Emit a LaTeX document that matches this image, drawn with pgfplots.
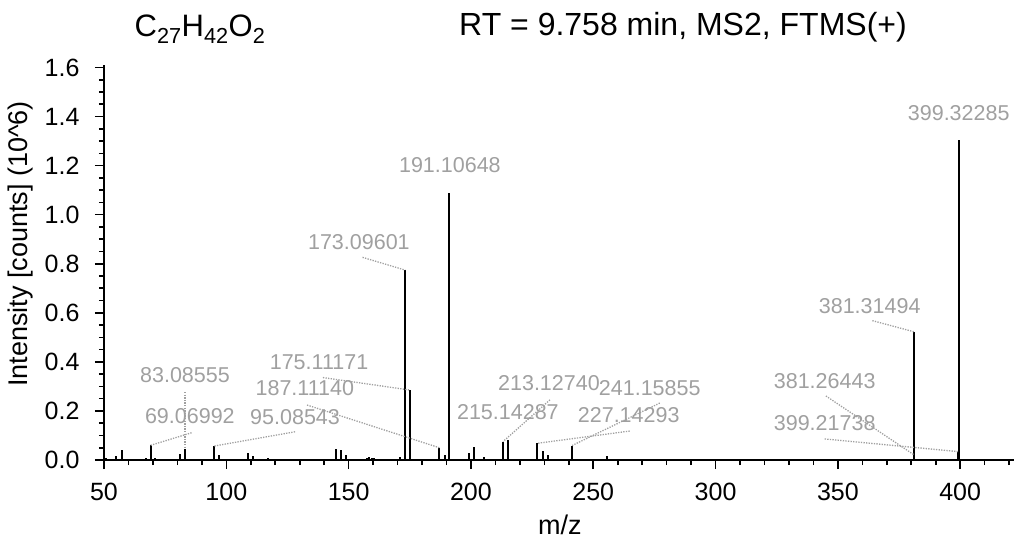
\documentclass[border=0pt]{standalone}
\usepackage{fontspec}
\setmainfont{Liberation Sans}
\usepackage{pgfplots}
\pgfplotsset{compat=1.18}
\definecolor{lbl}{RGB}{160,160,160}
\pgfplotstableread{
mz inten
51.0 0.008
54.9 0.016
57.2 0.04
59.5 0.005
62.2 0.005
67.0 0.01
69.06992 0.06
70.9 0.01
81.0 0.025
83.08555 0.045
93.6 0.005
95.08543 0.057
97.0 0.02
100.4 0.004
109.0 0.03
111.0 0.015
117.2 0.008
145.0 0.045
146.8 0.04
148.9 0.022
157.5 0.01
158.5 0.012
159.5 0.008
160.5 0.007
171.0 0.012
173.09601 0.774
175.11171 0.285
178.6 0.006
187.11140 0.05
189.4 0.02
191.10648 1.087
199.2 0.03
201.3 0.055
205.3 0.012
213.12740 0.075
215.14287 0.083
227.14293 0.068
229.5 0.035
231.6 0.02
241.15855 0.058
255.5 0.015
269.4 0.005
309.2 0.004
381.26443 0.02
381.31494 0.522
399.21738 0.034
399.32285 1.303
}\peaks
\begin{document}
\begin{tikzpicture}
\path[use as bounding box] (-104bp,-81bp) rectangle (912bp,460bp);
\begin{axis}[
  at={(0,0)}, anchor=south west,
  scale only axis, width=910bp, height=395bp,
  xmin=50, xmax=422, ymin=0, ymax=1.61,
  clip=false,
  axis x line=bottom, axis y line=left,
  axis line style={-, line width=1.8bp, black},
  /pgf/number format/assume math mode=true,
  xtick={50,100,150,200,250,300,350,400},
  minor xtick={60,70,80,90,110,120,130,140,160,170,180,190,210,220,230,240,260,270,280,290,310,320,330,340,360,370,380,390,410,420},
  ytick={0,0.2,0.4,0.6,0.8,1.0,1.2,1.4,1.6},
  minor ytick={0.05,0.1,0.15,0.25,0.3,0.35,0.45,0.5,0.55,0.65,0.7,0.75,0.85,0.9,0.95,1.05,1.1,1.15,1.25,1.3,1.35,1.45,1.5,1.55},
  tick align=outside,
  major tick length=9bp, minor tick length=5bp,
  tick style={line width=1.6bp, black},
  tick label style={font=\fontsize{25bp}{25bp}\selectfont},
  xticklabel style={yshift=-11bp},
  yticklabel style={xshift=-12bp, /pgf/number format/.cd, fixed, fixed zerofill, precision=1},
  xlabel={m/z},
  ylabel={Intensity [counts] (10\textasciicircum 6)},
  label style={font=\fontsize{27bp}{27bp}\selectfont},
  xlabel style={at={(axis description cs:0.501,-0.1646)}, anchor=center},
  ylabel style={at={(axis description cs:-0.0912,0.547)}, anchor=center},
]
\addplot[ycomb, black, line width=2bp, mark=none] table[x=mz, y=inten] {\peaks};
\tikzset{pl/.style={lbl, inner sep=0pt, anchor=center, font=\fontsize{21.5bp}{21.5bp}\selectfont},
         ld/.style={lbl, line width=1.3bp, dash pattern=on 1.3bp off 1.3bp}}
\node[pl] at (axis cs:399.4,1.415) {399.32285};
\node[pl] at (axis cs:191.4,1.203) {191.10648};
\node[pl] at (axis cs:154.2,0.887) {173.09601};
\draw[ld] (axis cs:155.7,0.826) -- (axis cs:173.096,0.774);
\node[pl] at (axis cs:137.9,0.397) {175.11171};
\draw[ld] (axis cs:139.5,0.336) -- (axis cs:175.112,0.285);
\node[pl] at (axis cs:132.1,0.294) {187.11140};
\draw[ld] (axis cs:133.0,0.224) -- (axis cs:187.111,0.05);
\node[pl] at (axis cs:83.1,0.347) {83.08555};
\draw[ld] (axis cs:83.09,0.277) -- (axis cs:83.09,0.045);
\node[pl] at (axis cs:85.1,0.177) {69.06992};
\draw[ld] (axis cs:85.8,0.111) -- (axis cs:69.07,0.06);
\node[pl] at (axis cs:128.1,0.175) {95.08543};
\draw[ld] (axis cs:128.1,0.115) -- (axis cs:95.085,0.057);
\node[pl] at (axis cs:231.9,0.313) {213.12740};
\draw[ld] (axis cs:232.3,0.245) -- (axis cs:213.127,0.075);
\node[pl] at (axis cs:215.1,0.197) {215.14287};
\node[pl] at (axis cs:264.5,0.183) {227.14293};
\draw[ld] (axis cs:264.9,0.118) -- (axis cs:227.143,0.068);
\node[pl] at (axis cs:273.1,0.294) {241.15855};
\draw[ld] (axis cs:277.2,0.232) -- (axis cs:241.159,0.058);
\node[pl] at (axis cs:363.0,0.628) {381.31494};
\draw[ld] (axis cs:364.1,0.568) -- (axis cs:381.315,0.522);
\node[pl] at (axis cs:344.6,0.323) {381.26443};
\draw[ld] (axis cs:345.1,0.261) -- (axis cs:381.264,0.02);
\node[pl] at (axis cs:344.6,0.151) {399.21738};
\draw[ld] (axis cs:344.6,0.086) -- (axis cs:399.217,0.034);
\end{axis}
\node[anchor=base, inner sep=0pt, font=\fontsize{31bp}{31bp}\selectfont] at (96bp,423bp) {C\textsubscript{27}H\textsubscript{42}O\textsubscript{2}};
\node[anchor=base, inner sep=0pt, font=\fontsize{32bp}{32bp}\selectfont] at (579bp,424bp) {RT = 9.758 min, MS2, FTMS(+)};
\end{tikzpicture}
\end{document}
